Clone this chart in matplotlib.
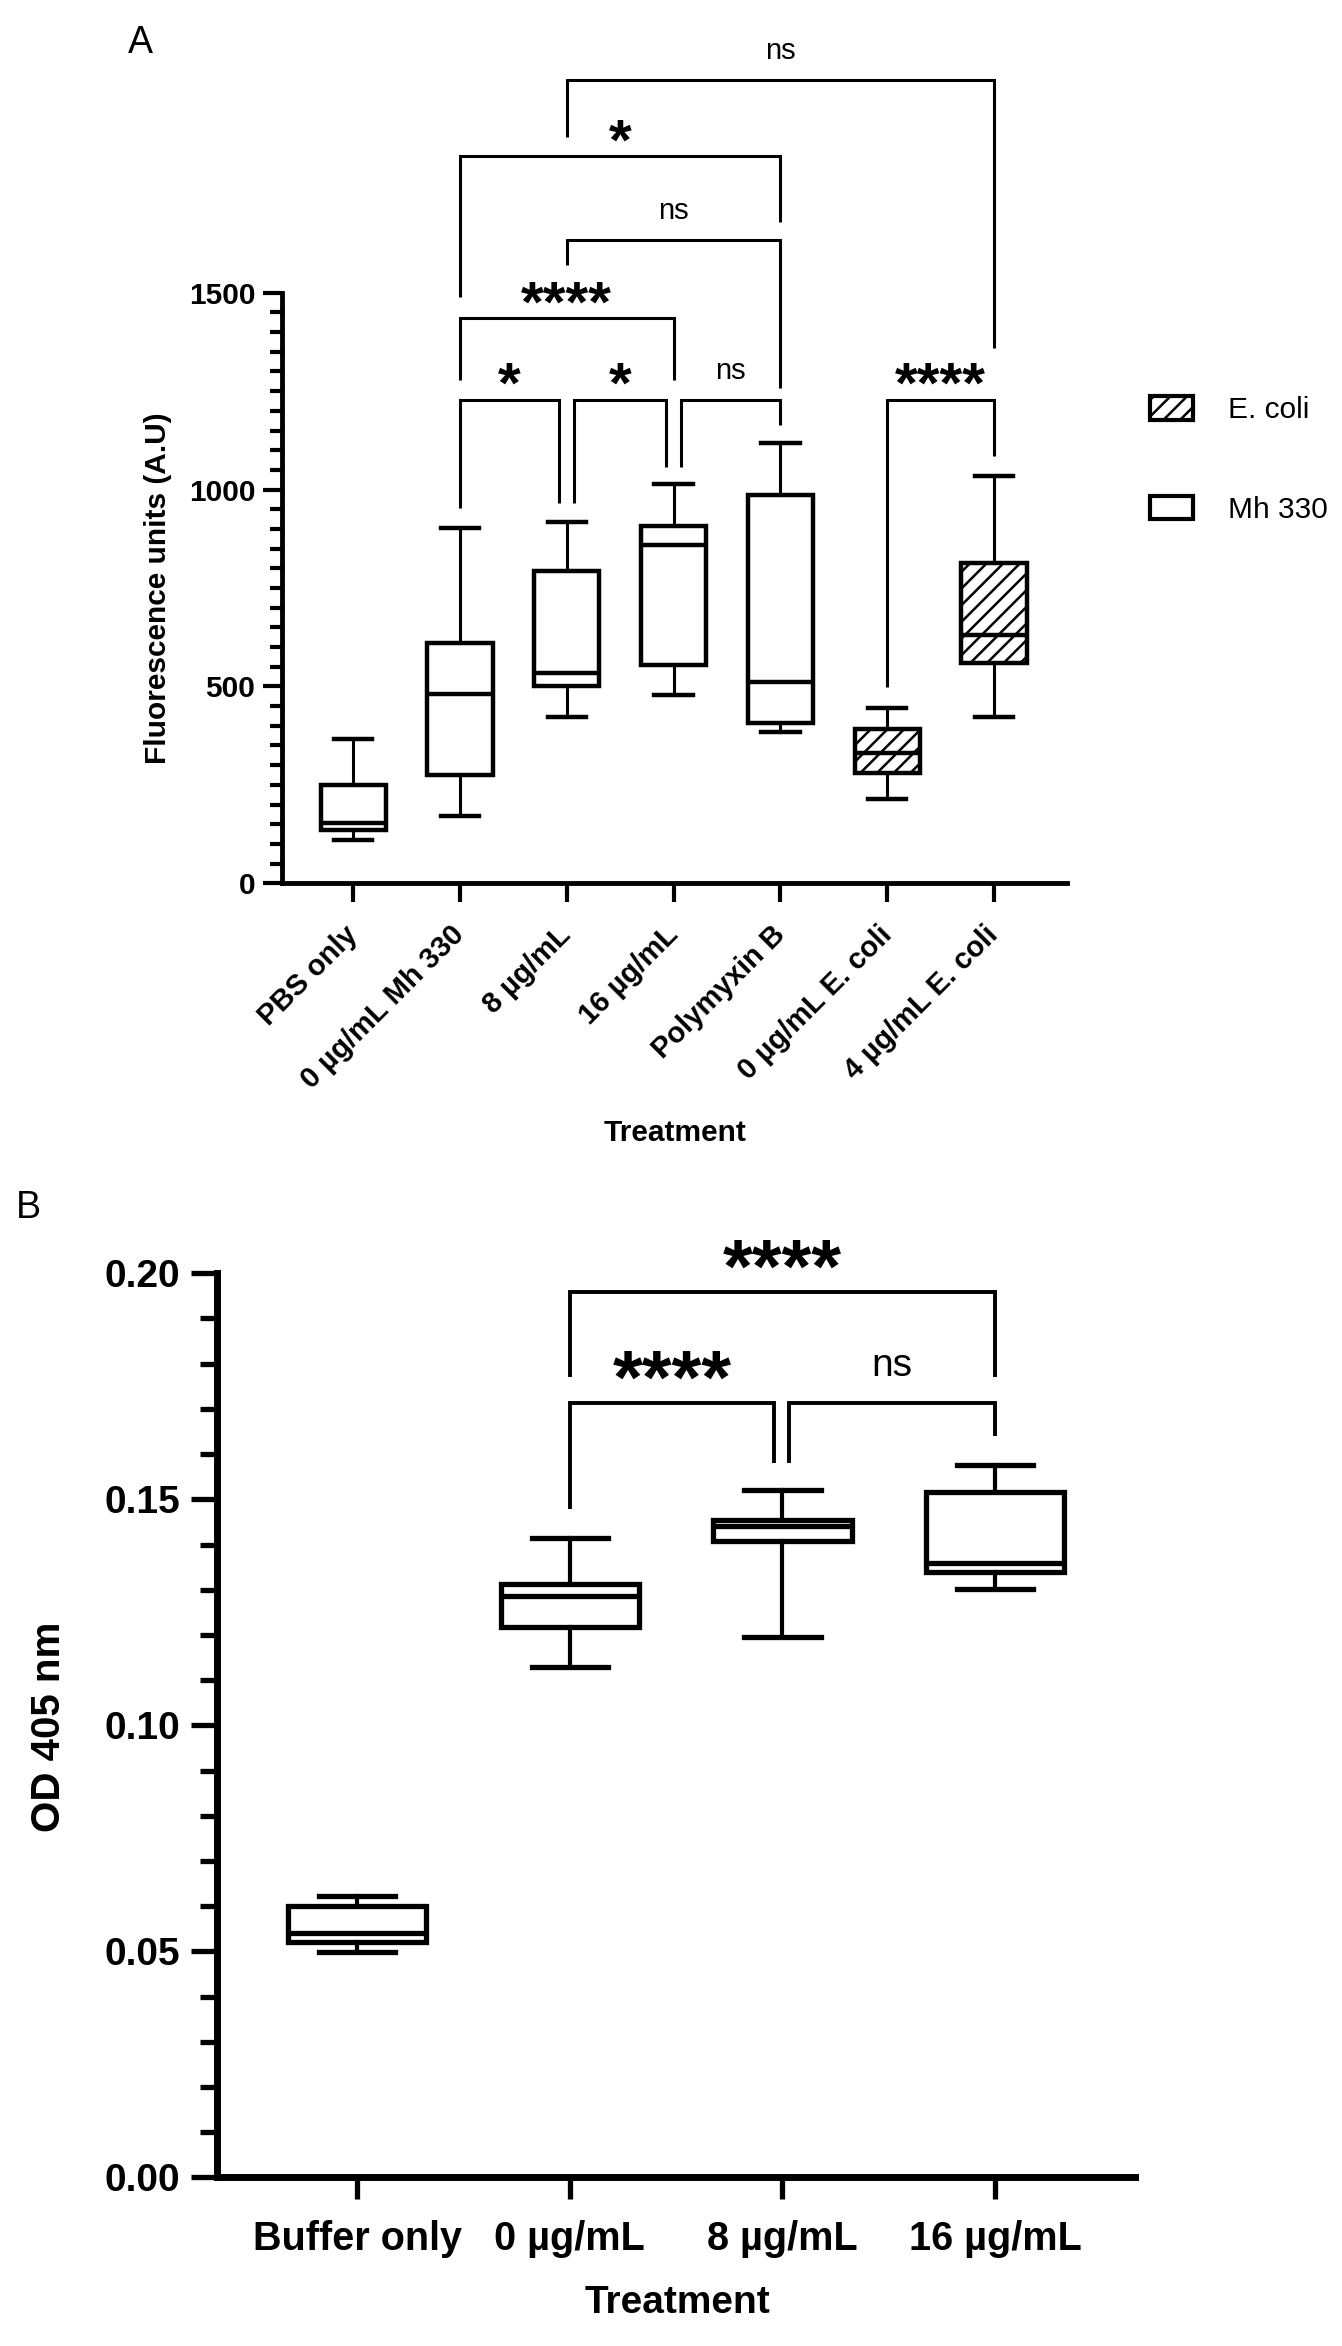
import matplotlib
matplotlib.use('Agg')
import matplotlib.pyplot as plt
from matplotlib.patches import Patch
from matplotlib.ticker import MultipleLocator, FixedLocator

plt.rcParams['font.family'] = ['Liberation Sans', 'DejaVu Sans']
plt.rcParams['hatch.linewidth'] = 1.8

# ---------------- Panel A data ----------------
a_categories = ['PBS only', '0 µg/mL Mh 330', '8 µg/mL', '16 µg/mL',
                'Polymyxin B', '0 µg/mL E. coli', '4 µg/mL E. coli']
a_groups = ['Mh 330', 'Mh 330', 'Mh 330', 'Mh 330', 'Mh 330', 'E. coli', 'E. coli']
a_whislo = [109, 170, 423, 478, 385, 215, 423]
a_q1 = [135, 275, 500, 555, 406, 281, 559]
a_med = [153, 481, 533, 860, 512, 330, 631]
a_q3 = [249, 611, 792, 908, 987, 391, 813]
a_whishi = [366, 902, 917, 1013, 1119, 444, 1034]

# comparisons: left/right category position, bar height, leg ends, label
a_cmp_x1 = [1, 2.07, 3.07, 5, 1, 2, 1, 2]
a_cmp_x2 = [1.93, 2.93, 4, 6, 3, 4, 4, 6]
a_cmp_y = [1228, 1228, 1228, 1228, 1435, 1634, 1846, 2040]
a_cmp_yl = [953, 966, 1057, 499, 1278, 1571, 1490, 1896]
a_cmp_yr = [966, 1057, 1164, 1084, 1278, 1258, 1680, 1359]
a_cmp_lbl = ['*', '*', 'ns', '****', '****', 'ns', '*', 'ns']

# ---------------- Panel B data ----------------
b_categories = ['Buffer only', '0 µg/mL', '8 µg/mL', '16 µg/mL']
b_whislo = [0.0498, 0.1128, 0.1195, 0.1301]
b_q1 = [0.0520, 0.1218, 0.1408, 0.1339]
b_med = [0.0541, 0.1285, 0.1440, 0.1359]
b_q3 = [0.0600, 0.1313, 0.1455, 0.1517]
b_whishi = [0.0623, 0.1415, 0.1521, 0.1576]

b_cmp_x1 = [1, 2.03, 1]
b_cmp_x2 = [1.96, 3, 3]
b_cmp_y = [0.1714, 0.1714, 0.1959]
b_cmp_yl = [0.1479, 0.1580, 0.1771]
b_cmp_yr = [0.1580, 0.1640, 0.1771]
b_cmp_lbl = ['****', 'ns', '****']

W, H = 1342, 2346
fig = plt.figure(figsize=(W / 100, H / 100), dpi=100)


def px_axes(left, top, right, bottom):
    return fig.add_axes([left / W, 1 - bottom / H, (right - left) / W, (bottom - top) / H])


def make_stats(lo, q1, med, q3, hi):
    return [dict(whislo=a, q1=b, med=c, q3=d, whishi=e, fliers=[])
            for a, b, c, d, e in zip(lo, q1, med, q3, hi)]


def brackets(ax, x1s, x2s, ys, yls, yrs, lbls, lw, star_size, ns_size, star_off, ns_off):
    for x1, x2, y, yl, yr, lbl in zip(x1s, x2s, ys, yls, yrs, lbls):
        ax.plot([x1, x1, x2, x2], [yl, y, y, yr], color='black', lw=lw,
                clip_on=False, solid_joinstyle='miter', solid_capstyle='butt')
        if lbl == 'ns':
            ax.annotate(lbl, xy=((x1 + x2) / 2, y), xytext=(0, ns_off),
                        textcoords='offset points', ha='center', va='baseline',
                        fontsize=ns_size, annotation_clip=False)
        else:
            ax.annotate(lbl, xy=((x1 + x2) / 2, y), xytext=(0, star_off),
                        textcoords='offset points', ha='center', va='baseline',
                        fontsize=star_size, fontweight='bold', annotation_clip=False)


# ================= Panel A =================
axA = px_axes(281.7, 292.7, 1066.7, 883.3)
posA = list(range(len(a_categories)))
bpA = axA.bxp(make_stats(a_whislo, a_q1, a_med, a_q3, a_whishi), positions=posA,
              widths=0.61, capwidths=0.36, patch_artist=True, showfliers=False,
              boxprops=dict(facecolor='white', edgecolor='black', linewidth=3.2),
              whiskerprops=dict(color='black', linewidth=2.2),
              capprops=dict(color='black', linewidth=3.2),
              medianprops=dict(color='black', linewidth=3.2))
for box, g in zip(bpA['boxes'], a_groups):
    if g == 'E. coli':
        box.set_hatch('//')

axA.set_xlim(-0.67, 6.68)
axA.set_ylim(0, 1500)
for s in ['top', 'right']:
    axA.spines[s].set_visible(False)
for s in ['left', 'bottom']:
    axA.spines[s].set_linewidth(3.5)
axA.yaxis.set_major_locator(FixedLocator([0, 500, 1000, 1500]))
axA.yaxis.set_minor_locator(MultipleLocator(50))
axA.tick_params(axis='y', which='major', length=14, width=3.0, labelsize=21.5, pad=5)
axA.tick_params(axis='y', which='minor', length=9, width=3.0)
axA.tick_params(axis='x', which='major', length=14, width=3.0, labelsize=21, pad=20)
axA.set_xticks(posA)
axA.set_xticklabels(a_categories, rotation=45, ha='right', va='center',
                    rotation_mode='anchor', fontweight='bold')
for t in axA.get_yticklabels():
    t.set_fontweight('bold')
axA.set_ylabel('Fluorescence units (A.U)', fontsize=21.5, fontweight='bold', va='center')
axA.yaxis.set_label_coords(-0.158, 0.5)
axA.set_xlabel('Treatment', fontsize=21.5, fontweight='bold', va='center')
axA.xaxis.set_label_coords(0.501, -0.4228)

brackets(axA, a_cmp_x1, a_cmp_x2, a_cmp_y, a_cmp_yl, a_cmp_yr, a_cmp_lbl,
         lw=2.2, star_size=42, ns_size=21, star_off=-2, ns_off=15)

handles = [Patch(facecolor='white', edgecolor='black', hatch='//', linewidth=3.0, label='E. coli'),
           Patch(facecolor='white', edgecolor='black', linewidth=3.0, label='Mh 330')]
fig.legend(handles=handles, loc='upper left', bbox_to_anchor=(1150 / W, 1 - 396 / H),
           frameon=False, fontsize=21.5, handlelength=1.44, handleheight=0.84,
           handletextpad=1.17, labelspacing=2.4, borderpad=0, borderaxespad=0)

fig.text(140 / W, 1 - 43 / H, 'A', fontsize=27, ha='center', va='center')

# ================= Panel B =================
axB = px_axes(216.7, 1273.3, 1134.7, 2177.3)
posB = list(range(len(b_categories)))
axB.bxp(make_stats(b_whislo, b_q1, b_med, b_q3, b_whishi), positions=posB,
        widths=0.65, capwidths=0.36, patch_artist=True, showfliers=False,
        boxprops=dict(facecolor='white', edgecolor='black', linewidth=3.8),
        whiskerprops=dict(color='black', linewidth=3.0),
        capprops=dict(color='black', linewidth=3.8),
        medianprops=dict(color='black', linewidth=3.8))
axB.set_xlim(-0.661, 3.657)
axB.set_ylim(0, 0.20)
for s in ['top', 'right']:
    axB.spines[s].set_visible(False)
for s in ['left', 'bottom']:
    axB.spines[s].set_linewidth(5.0)
axB.yaxis.set_major_locator(MultipleLocator(0.05))
axB.yaxis.set_minor_locator(MultipleLocator(0.01))
axB.yaxis.set_major_formatter(matplotlib.ticker.FormatStrFormatter('%.2f'))
axB.tick_params(axis='y', which='major', length=19, width=3.8, labelsize=28, pad=7)
axB.tick_params(axis='y', which='minor', length=12, width=3.8)
axB.tick_params(axis='x', which='major', length=16, width=3.8, labelsize=28.5, pad=15)
axB.set_xticks(posB)
axB.set_xticklabels(b_categories, fontweight='bold')
for t in axB.get_yticklabels():
    t.set_fontweight('bold')
axB.set_ylabel('OD 405 nm', fontsize=29, fontweight='bold', va='center')
axB.yaxis.set_label_coords(-0.1827, 0.498)
axB.set_xlabel('Treatment', fontsize=28, fontweight='bold', va='center')
axB.xaxis.set_label_coords(0.5025, -0.1386)

brackets(axB, b_cmp_x1, b_cmp_x2, b_cmp_y, b_cmp_yl, b_cmp_yr, b_cmp_lbl,
         lw=2.8, star_size=55, ns_size=28, star_off=0, ns_off=19)

fig.text(28 / W, 1 - 1208 / H, 'B', fontsize=27, ha='center', va='center')

fig.savefig('out.png', dpi=100)
